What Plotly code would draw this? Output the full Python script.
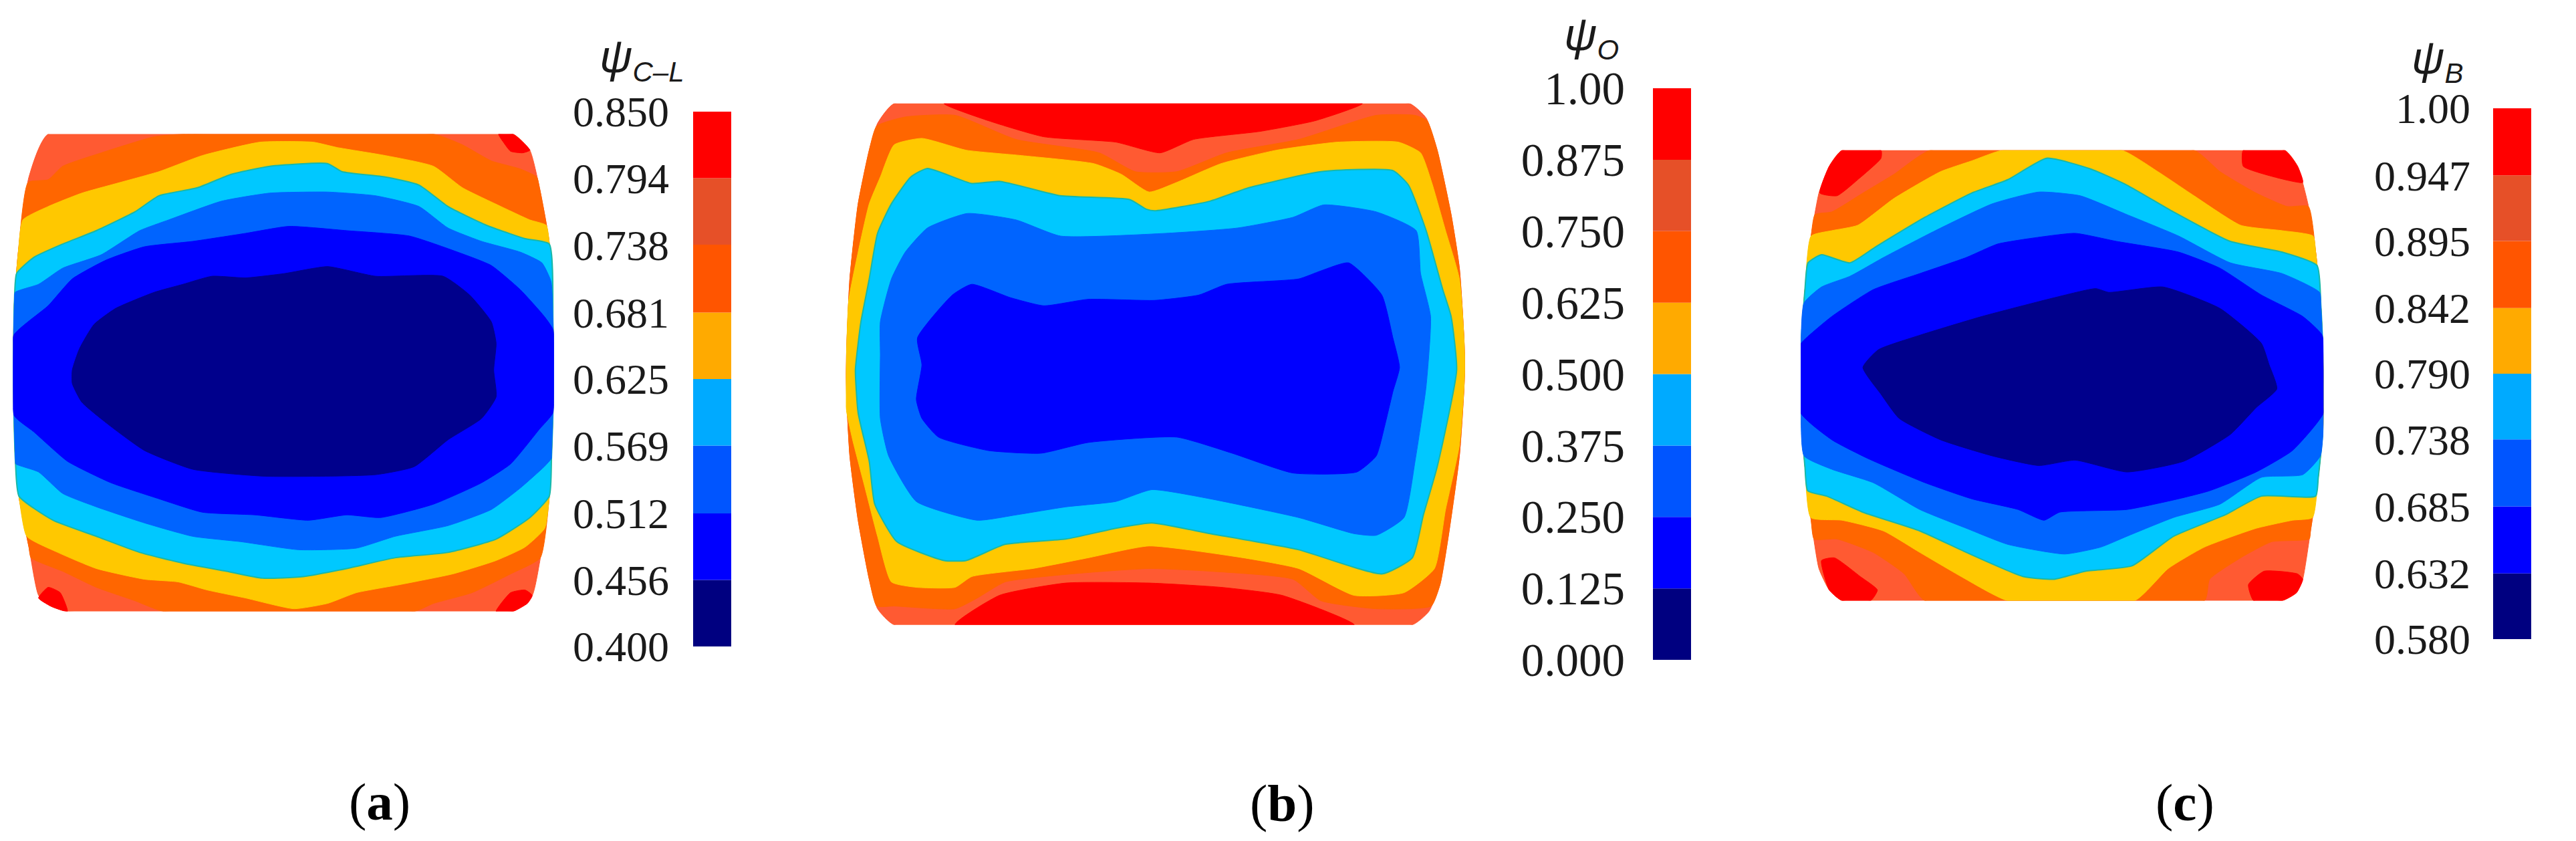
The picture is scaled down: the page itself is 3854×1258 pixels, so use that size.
import numpy as np
import plotly.graph_objects as go

W, H = 3854, 1258
FIELD_COLORS = ["#00008C", "#0000FF", "#0064FF", "#00C8FF", "#FFC800", "#FF6600", "#FF5A32", "#FF0000"]
BAR_COLORS = ["#000080", "#0000FF", "#0055FF", "#00AAFF", "#FFAA00", "#FF5500", "#E65028", "#FF0000"]

# Colour scale labels
LABELS_A = ["0.400", "0.456", "0.512", "0.569", "0.625", "0.681", "0.738", "0.794", "0.850"]
LABELS_B = ["0.000", "0.125", "0.250", "0.375", "0.500", "0.625", "0.750", "0.875", "1.00"]
LABELS_C = ["0.580", "0.632", "0.685", "0.738", "0.790", "0.842", "0.895", "0.947", "1.00"]

# ---------- Panel a: contour outlines ----------
A_LEFT = [(100,250),(60,330),(38,470),(30,560),(27,690),(32,860),(40,930),(60,1020),(80,1110),(105,1130),(140,1140)]
A_RIGHT = [(1065,250),(1100,280),(1120,350),(1140,450),(1148,600),(1150,700),(1145,850),(1140,930),(1120,1050),(1105,1110),(1065,1140)]
A_RED = [
    [(1035,250),(1065,250),(1100,280),(1085,285),(1060,282),(1045,265)],
    [(80,1115),(100,1095),(125,1105),(140,1140),(105,1130)],
    [(1030,1140),(1060,1105),(1090,1100),(1105,1110),(1095,1125),(1065,1140)],
]
A_ORANGE_T = [(60,340),(100,335),(130,310),(210,285),(320,255),(380,250),(900,250),(960,270),(1020,300),(1080,315),(1115,330)]
A_ORANGE_B = [(65,1040),(130,1065),(200,1095),(280,1120),(340,1140),(860,1140),(900,1125),(980,1105),(1060,1070),(1115,1040)]
A_YELLOW_T = [(45,410),(100,385),(170,360),(250,340),(330,320),(420,290),(540,265),(650,265),(700,275),(800,290),(900,310),(960,350),(1040,385),(1100,410),(1130,420)]
A_YELLOW_B = [(45,1000),(120,1030),(200,1060),(300,1080),(370,1085),(430,1100),(510,1115),(610,1135),(680,1125),(740,1105),(830,1090),(940,1070),(1030,1045),(1090,1020),(1130,985)]
A_CYAN_T = [(35,510),(70,480),(130,455),(200,430),(280,395),(330,365),(410,350),(480,325),(560,310),(680,305),(710,320),(800,330),(870,345),(930,385),(1010,420),(1090,445),(1135,455)]
A_CYAN_B = [(38,925),(110,970),(200,1000),(290,1030),(380,1050),(470,1065),(545,1078),(630,1075),(720,1060),(820,1040),(930,1030),(1030,1005),(1100,965),(1140,925)]
A_MID_T = [(32,545),(80,530),(130,500),(210,475),(290,430),(350,410),(460,375),(560,360),(680,358),(780,365),(870,385),(930,425),(1000,450),(1080,470),(1125,490),(1143,525)]
A_MID_B = [(35,865),(80,880),(130,920),(200,945),(300,975),(400,1000),(500,1010),(620,1025),(740,1022),(820,1000),(930,980),(1020,950),(1080,910),(1130,870),(1147,855)]
A_BLUE_T = [(30,625),(100,570),(150,520),(220,485),(300,460),(400,450),(510,435),(600,422),(720,430),(850,440),(950,470),(1020,495),(1080,540),(1130,590),(1148,615)]
A_BLUE_B = [(30,775),(70,805),(140,860),(230,900),(330,930),(420,955),(530,960),(640,970),(720,960),(790,965),(900,940),(1000,900),(1060,865),(1120,800),(1150,770)]
A_NAVY = [(150,690),(165,650),(195,605),(240,575),(320,545),(380,530),(440,515),(510,518),(590,510),(680,497),(780,515),(920,515),(975,550),(1020,600),(1030,640),(1025,690),(1030,740),(1000,780),(930,820),(860,870),(780,885),(550,888),(400,875),(300,840),(230,795),(170,750),(150,715)]

# ---------- Panel b ----------
B_LEFT = [(130,193),(100,230),(85,280),(65,380),(50,520),(43,700),(50,850),(65,970),(85,1080),(100,1135),(130,1165)]
B_RIGHT = [(1060,193),(1090,220),(1110,280),(1135,400),(1150,500),(1160,680),(1150,850),(1130,1000),(1115,1090),(1095,1140),(1065,1165)]
B_RED = [
    [(220,193),(300,225),(400,255),(530,265),(610,285),(670,260),(790,245),(890,225),(975,193)],
    [(240,1165),(320,1110),(440,1087),(590,1087),(720,1095),(830,1110),(960,1165)],
]
B_ORANGE_T = [(100,235),(150,218),(240,215),(350,260),(500,285),(565,320),(640,320),(730,285),(860,260),(1000,215),(1070,215),(1095,225)]
B_ORANGE_B = [(100,1130),(130,1130),(240,1135),(280,1115),(330,1085),(450,1070),(590,1060),(700,1065),(850,1080),(900,1120),(1000,1135),(1100,1130)]
B_YELLOW = [(43,700),(48,560),(65,470),(85,380),(105,330),(130,270),(180,258),(260,280),(360,290),(490,305),(540,325),(590,358),(640,340),(720,305),(820,280),(930,265),(1040,265),(1080,285),(1100,340),(1125,430),(1150,520),(1160,680),(1150,830),(1125,950),(1105,1060),(1050,1105),(960,1110),(860,1060),(760,1040),(590,1018),(480,1040),(380,1060),(270,1075),(240,1095),(170,1095),(125,1085),(100,1000),(75,900),(55,820),(43,760)]
B_CYAN = [(65,640),(60,690),(65,770),(85,860),(95,940),(135,1010),(220,1045),(260,1045),(330,1015),(440,1005),(530,985),(595,975),(700,995),(860,1025),(1010,1070),(1065,1040),(1085,960),(1110,870),(1145,690),(1135,590),(1120,540),(1090,430),(1058,345),(1030,318),(900,320),(770,350),(700,375),(600,393),(585,390),(555,372),(430,365),(320,338),(270,342),(190,314),(160,330),(125,380),(100,435),(85,520),(70,600)]
B_MID = [(105,600),(105,660),(105,780),(120,850),(170,935),(280,970),(350,960),(440,945),(530,935),(595,913),(700,930),(860,965),(960,995),(1000,998),(1050,965),(1070,860),(1090,720),(1098,590),(1080,510),(1072,430),(1000,395),(905,382),(850,405),(750,425),(620,435),(430,440),(350,410),(262,398),(190,425),(150,470),(125,520)]
B_BLUE = [(172,630),(180,680),(170,745),(180,780),(210,815),(300,840),(395,845),(480,825),(640,815),(740,845),(850,882),(965,880),(1000,850),(1015,795),(1030,730),(1042,685),(1030,630),(1010,550),(950,490),(900,505),(860,520),(730,530),(680,550),(600,560),(480,558),(400,570),(340,555),(270,530),(235,550)]

# ---------- Panel c ----------
C_LEFT = [(150,280),(125,310),(105,360),(90,440),(78,540),(70,650),(70,770),(78,870),(90,970),(105,1060),(125,1100),(150,1120)]
C_RIGHT = [(1005,280),(1030,310),(1050,380),(1065,470),(1075,570),(1080,680),(1080,790),(1070,890),(1055,990),(1040,1080),(1028,1105),(1000,1120)]
C_RED = [
    [(150,280),(225,280),(225,295),(180,335),(140,365),(107,360),(125,310)],
    [(925,280),(1005,280),(1030,310),(1040,340),(985,330),(925,310)],
    [(110,1045),(135,1040),(185,1075),(218,1100),(205,1120),(150,1120),(125,1100)],
    [(935,1090),(965,1065),(1030,1070),(1040,1080),(1028,1105),(1000,1120),(945,1120)],
]
C_ORANGE_T = [(95,400),(130,395),(190,360),(250,325),(320,280),(830,280),(880,320),(950,360),(1010,385),(1055,385)]
C_ORANGE_B = [(100,1005),(140,1005),(210,1030),(270,1070),(310,1120),(850,1120),(860,1080),(920,1040),(980,1010),(1050,1005)]
C_YELLOW_T = [(88,440),(130,430),(180,420),(250,370),(340,320),(400,300),(460,280),(690,280),(760,320),(830,365),(920,420),(1000,430),(1060,440)]
C_YELLOW_B = [(92,965),(150,970),(230,990),(300,1030),(380,1075),(470,1120),(715,1120),(780,1060),(850,1020),(950,985),(1020,970),(1058,965)]
C_CYAN_T = [(80,490),(110,475),(165,490),(215,460),(310,405),(400,360),(470,335),(545,295),(630,315),(700,345),(790,395),(900,450),(1000,470),(1065,495)]
C_CYAN_B = [(82,915),(120,925),(190,955),(300,990),(390,1030),(500,1075),(560,1080),(620,1065),(710,1055),(790,1000),(890,960),(960,925),(1065,925)]
C_MID_T = [(78,565),(110,535),(165,515),(230,480),(330,430),(440,380),(530,358),(610,365),(700,400),(800,440),(900,490),(1000,510),(1072,545)]
C_MID_B = [(78,850),(130,875),(210,900),(300,950),(390,985),(470,1015),(580,1033),(650,1020),(700,1000),(790,965),(880,940),(960,890),(1040,885),(1070,850)]
C_BLUE_T = [(72,640),(130,590),(210,540),(300,510),(390,480),(450,455),(510,445),(600,435),(680,450),(800,470),(880,500),(960,550),(1040,590),(1080,625)]
C_BLUE_B = [(72,770),(130,820),(200,855),(310,900),(400,930),(490,950),(540,970),(570,955),(700,950),(800,930),(860,915),(950,880),(1020,840),(1080,770)]
C_NAVY = [(190,685),(220,652),(300,625),(420,590),(560,555),(640,538),(665,545),(770,535),(880,575),(960,640),(975,680),(990,725),(950,760),(900,810),(810,860),(700,880),(600,858),(530,868),(440,850),(340,820),(260,780),(225,735)]


def edge_x(edge, y):
    ys = [p[1] for p in edge]
    xs = [p[0] for p in edge]
    return float(np.interp(y, ys, xs))


def band(top, bottom, left, right):
    """Closed outline from an upper and lower contour, following the barrel sides."""
    top = [(edge_x(left, top[0][1]), top[0][1])] + top[1:-1] + [(edge_x(right, top[-1][1]), top[-1][1])]
    bottom = [(edge_x(left, bottom[0][1]), bottom[0][1])] + bottom[1:-1] + [(edge_x(right, bottom[-1][1]), bottom[-1][1])]
    r_side = [p for p in right if top[-1][1] < p[1] < bottom[-1][1]]
    l_side = [p for p in left if top[0][1] < p[1] < bottom[0][1]]
    return top + r_side + bottom[::-1] + l_side[::-1]


def poly(pts, color, n, edge=None):
    xs = [p[0] for p in pts] + [pts[0][0]]
    ys = [p[1] for p in pts] + [pts[0][1]]
    return go.Scatter(x=xs, y=ys, mode="lines", fill="toself", fillcolor=color,
                      line=dict(color=edge or color, width=2 if edge else 1, shape="spline", smoothing=0.5),
                      xaxis=f"x{n}", yaxis=f"y{n}", hoverinfo="skip", showlegend=False)


N, B, M, Y_C, Y, O, OR, R = FIELD_COLORS  # navy, blue, mid blue, cyan, yellow, orange, orange-red, red
SEAM = "#18B8A8"
fig = go.Figure()


def barrel(left, right):
    return left + right[::-1]


# Panel a
fig.add_trace(poly(barrel(A_LEFT, A_RIGHT), OR, 1))
for r in A_RED:
    fig.add_trace(poly(r, R, 1))
for t, b_, c in [(A_ORANGE_T, A_ORANGE_B, O), (A_YELLOW_T, A_YELLOW_B, Y), (A_CYAN_T, A_CYAN_B, Y_C),
                 (A_MID_T, A_MID_B, M), (A_BLUE_T, A_BLUE_B, B)]:
    fig.add_trace(poly(band(t, b_, A_LEFT, A_RIGHT), c, 1, SEAM if c == Y_C else None))
fig.add_trace(poly(A_NAVY, N, 1))

# Panel b
fig.add_trace(poly(barrel(B_LEFT, B_RIGHT), OR, 2))
fig.add_trace(poly(band(B_ORANGE_T, B_ORANGE_B, B_LEFT, B_RIGHT), O, 2))
for r in B_RED:
    fig.add_trace(poly(r, R, 2))
for pts, c in [(B_YELLOW, Y), (B_CYAN, Y_C), (B_MID, M), (B_BLUE, B)]:
    fig.add_trace(poly(pts, c, 2, SEAM if c == Y_C else None))

# Panel c
fig.add_trace(poly(barrel(C_LEFT, C_RIGHT), OR, 3))
for r in C_RED:
    fig.add_trace(poly(r, R, 3))
for t, b_, c in [(C_ORANGE_T, C_ORANGE_B, O), (C_YELLOW_T, C_YELLOW_B, Y), (C_CYAN_T, C_CYAN_B, Y_C),
                 (C_MID_T, C_MID_B, M), (C_BLUE_T, C_BLUE_B, B)]:
    fig.add_trace(poly(band(t, b_, C_LEFT, C_RIGHT), c, 3, SEAM if c == Y_C else None))
fig.add_trace(poly(C_NAVY, N, 3))

# Colour bars: one stacked segment per band, on an axis carrying the scale labels
SERIF = "Liberation Serif"
bars = [
    (4, LABELS_A, (1037, 1094), (167, 967), 35, 64),
    (5, LABELS_B, (2473, 2530), (132, 987), 41, 69),
    (6, LABELS_C, (3730, 3787), (162, 956), 33, 64),
]
layout = dict(
    width=W, height=H, margin=dict(l=0, r=0, t=0, b=0, autoexpand=False), paper_bgcolor="white", plot_bgcolor="white",
    showlegend=False, barmode="overlay",
)
hidden = dict(visible=False, showgrid=False, zeroline=False, automargin=False)
# Each panel's axes stop at the barrel's extent, so the top and bottom edges stay straight
for n, (x0, x1), (xa, xb), (ya, yb) in [
    (1, (0, 1130), (27, 1150), (250, 1140)),
    (2, (1230, 2530), (43, 1160), (193, 1165)),
    (3, (2640, 3854), (70, 1080), (280, 1120)),
]:
    sx = (x1 - x0) / 1568
    sy = H / 1568
    layout[f"xaxis{n}"] = dict(domain=[(x0 + xa * sx) / W, (x0 + xb * sx) / W], range=[xa, xb], anchor=f"y{n}", **hidden)
    layout[f"yaxis{n}"] = dict(domain=[1 - yb * sy / H, 1 - ya * sy / H], range=[yb, ya], anchor=f"x{n}", **hidden)

for n, labels, (x0, x1), (y0, y1), standoff, fs in bars:
    vals = [float(s) for s in labels]
    for i in range(8):
        fig.add_trace(go.Bar(x=[0], y=[vals[i + 1] - vals[i]], base=[vals[i]], width=[1],
                             marker=dict(color=BAR_COLORS[i], line=dict(width=0)),
                             xaxis=f"x{n}", yaxis=f"y{n}", hoverinfo="skip", showlegend=False))
    layout[f"xaxis{n}"] = dict(domain=[x0 / W, x1 / W], range=[-0.5, 0.5], anchor=f"y{n}", **hidden)
    layout[f"yaxis{n}"] = dict(domain=[1 - y1 / H, 1 - y0 / H], range=[vals[0], vals[-1]], anchor=f"x{n}",
                               tickmode="array", tickvals=vals, ticktext=labels, ticks="", showline=False,
                               showgrid=False, zeroline=False, automargin=False, ticklabelstandoff=standoff,
                               tickfont=dict(family=SERIF, size=fs, color="#1a1a1a"))
fig.update_layout(**layout)

# Titles and panel captions
SANS = "Liberation Sans"
sub = "font-size:42px"
for text, px, py in [
    (f"<i>ψ</i><sub><span style=\"{sub}\"><i>C–L</i></span></sub>", 960, 88),
    (f"<i>ψ</i><sub><span style=\"{sub}\"><i>O</i></span></sub>", 2381, 56),
    (f"<i>ψ</i><sub><span style=\"{sub}\"><i>B</i></span></sub>", 3647, 90),
]:
    fig.add_annotation(text=text, xref="paper", yref="paper", x=px / W, y=1 - py / H, showarrow=False,
                       xanchor="center", yanchor="middle", font=dict(family=SANS, size=68, color="#1a1a1a"))
for text, px, py in [("(<b>a</b>)", 568, 1199), ("(<b>b</b>)", 1918, 1201), ("(<b>c</b>)", 3269, 1200)]:
    fig.add_annotation(text=text, xref="paper", yref="paper", x=px / W, y=1 - py / H, showarrow=False,
                       xanchor="center", yanchor="middle", font=dict(family=SERIF, size=79, color="#000000"))

fig.write_html("out.html", config={"displayModeBar": False}, post_script="document.body.style.margin='0';")
